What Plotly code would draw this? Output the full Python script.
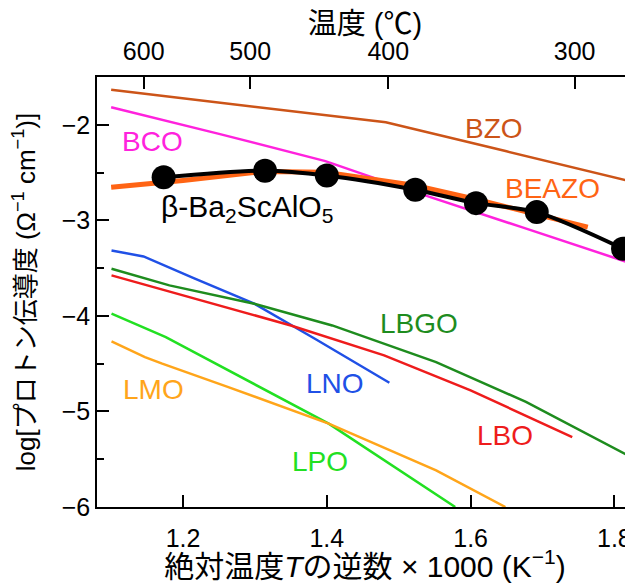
import plotly.graph_objects as go

# ---- data (x = 1000/T [K^-1], y = log sigma) ----
bzo_x = [1.100, 1.292, 1.482, 1.650, 1.818]
bzo_y = [-1.634, -1.801, -1.973, -2.278, -2.583]

bco_x = [1.100, 1.250, 1.398, 1.523, 1.670, 1.818]
bco_y = [-1.816, -2.095, -2.380, -2.705, -3.069, -3.437]

beazo_x = [1.100, 1.200, 1.311, 1.398, 1.523, 1.610, 1.763]
beazo_y = [-2.653, -2.583, -2.488, -2.496, -2.635, -2.785, -3.071]

bsao_x = [1.173, 1.314, 1.400, 1.523, 1.6075, 1.692, 1.812]
bsao_y = [-2.550, -2.480, -2.530, -2.680, -2.820, -2.914, -3.297]

lno_x = [1.1005, 1.145, 1.2148, 1.299, 1.3834, 1.487]
lno_y = [-3.315, -3.378, -3.605, -3.872, -4.239, -4.700]

lbgo_x = [1.1005, 1.181, 1.299, 1.4075, 1.552, 1.677, 1.8185]
lbgo_y = [-3.506, -3.681, -3.872, -4.100, -4.483, -4.900, -5.459]

lbo_x = [1.1005, 1.1907, 1.350, 1.4797, 1.600, 1.7414]
lbo_y = [-3.576, -3.768, -4.100, -4.413, -4.780, -5.268]

lpo_x = [1.1005, 1.176, 1.4026, 1.5786]
lpo_y = [-3.977, -4.222, -5.128, -6.000]

lmo_x = [1.1005, 1.147, 1.171, 1.263, 1.4026, 1.552, 1.6484]
lmo_y = [-4.267, -4.431, -4.500, -4.745, -5.128, -5.616, -6.000]

temp_ticks_c = [600, 500, 400, 300]
x_ticks = [1.2, 1.4, 1.6, 1.8]
y_ticks = [-6, -5, -4, -3, -2]

FONT = "Liberation Sans, Arial, Noto Sans CJK JP, sans-serif"

fig = go.Figure()

def line(x, y, color, width):
    fig.add_trace(go.Scatter(x=x, y=y, mode="lines",
                             line=dict(color=color, width=width),
                             showlegend=False, hoverinfo="skip"))

line(bzo_x, bzo_y, "#CC5418", 2.5)
line(bco_x, bco_y, "#FF22DD", 2.5)
line(beazo_x, beazo_y, "#FF6414", 5)
fig.add_trace(go.Scatter(x=bsao_x, y=bsao_y, mode="lines+markers",
                         line=dict(color="black", width=4, shape="spline", smoothing=0.8),
                         marker=dict(color="black", size=24),
                         showlegend=False, hoverinfo="skip"))
line(lno_x, lno_y, "#2050E6", 2.5)
line(lbgo_x, lbgo_y, "#1E8C1E", 2.5)
line(lbo_x, lbo_y, "#EE1C1C", 2.5)
line(lpo_x, lpo_y, "#22E022", 2.5)
line(lmo_x, lmo_y, "#FFA51A", 2.5)

# invisible trace for top axis
fig.add_trace(go.Scatter(x=[1.1, 1.8], y=[-6, -6], xaxis="x2", mode="markers",
                         marker=dict(opacity=0), showlegend=False, hoverinfo="skip"))

LBL = 28
labels = [
    ("BZO", 1.632, -2.04, "#CC5418", LBL),
    ("BCO", 1.157, -2.18, "#FF22DD", LBL),
    ("BEAZO", 1.714, -2.67, "#FF6414", LBL),
    ("β-Ba<sub>2</sub>ScAlO<sub>5</sub>", 1.289, -2.875, "black", 30),
    ("LBGO", 1.528, -4.08, "#1E8C1E", LBL),
    ("LNO", 1.412, -4.71, "#2050E6", LBL),
    ("LMO", 1.159, -4.77, "#FFA51A", LBL),
    ("LBO", 1.648, -5.25, "#EE1C1C", LBL),
    ("LPO", 1.390, -5.52, "#22E022", LBL),
]
for txt, lx, ly, col, fs in labels:
    fig.add_annotation(x=lx, y=ly, text=txt, showarrow=False,
                       font=dict(family=FONT, size=fs, color=col),
                       xanchor="center", yanchor="middle")

xr = [1.0803, 1.8259]
temp_pos = [1000.0 / (t + 273.15) for t in temp_ticks_c]

TICK = 25
fig.update_layout(
    width=625, height=575,
    margin=dict(l=89, r=0, t=69, b=76, autoexpand=False),
    paper_bgcolor="white", plot_bgcolor="white",
    font=dict(family=FONT, size=TICK, color="black"),
    xaxis=dict(range=xr, tickvals=x_ticks, ticktext=[f"{v:.1f}" for v in x_ticks],
               ticks="inside", ticklen=12, tickwidth=1.5, tickcolor="black",
               showline=True, linecolor="black", linewidth=1.5,
               showgrid=False, zeroline=False, automargin=False,
               tickfont=dict(size=TICK), ticklabelstandoff=8,
               title=dict(text="絶対温度<i>T</i>の逆数 × 1000 (K<sup>−1</sup>)",
                          font=dict(size=30), standoff=4)),
    xaxis2=dict(range=xr, overlaying="x", side="top", matches="x",
                tickvals=temp_pos, ticktext=[str(t) for t in temp_ticks_c],
                ticks="inside", ticklen=12, tickwidth=1.5, tickcolor="black",
                showline=True, linecolor="black", linewidth=1.5,
                showgrid=False, zeroline=False, automargin=False,
                tickfont=dict(size=TICK), ticklabelstandoff=5,
                title=dict(text="温度 (℃)", font=dict(size=29), standoff=2)),
    yaxis=dict(range=[-6, -1.5], tickvals=y_ticks,
               ticks="inside", ticklen=12, tickwidth=1.5, tickcolor="black",
               minor=dict(dtick=0.5, tick0=-6, ticks="inside", ticklen=7,
                          tickwidth=1.5, tickcolor="black"),
               showline=True, linecolor="black", linewidth=1.5,
               showgrid=False, zeroline=False, automargin=False,
               tickfont=dict(size=TICK),
               title=dict(text="log[プロトン伝導度 (Ω<sup>−1</sup> cm<sup>−1</sup>)]",
                          font=dict(size=26), standoff=22)),
)

fig.write_html("out.html")
